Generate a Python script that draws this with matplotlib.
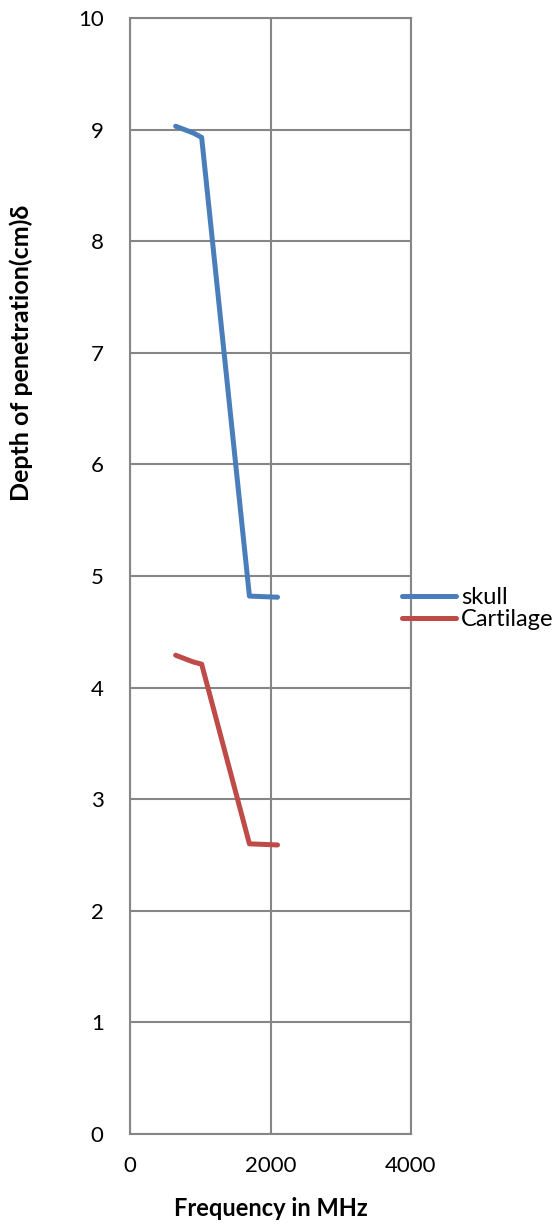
import numpy as np
import matplotlib.pyplot as plt

plt.rcParams['font.family'] = ['Lato', 'DejaVu Sans']

# frequency (MHz) and penetration depth (cm)
freq = [650, 900, 1020, 1700, 2100]
skull = [9.03, 8.97, 8.93, 4.82, 4.81]
cartilage = [4.29, 4.23, 4.21, 2.60, 2.59]

x_ticks = [0, 2000, 4000]
y_ticks = list(range(0, 11))

fig = plt.figure(figsize=(5.6, 12.24), dpi=100)
ax = fig.add_axes([130 / 560, 90 / 1224, 281 / 560, 1116 / 1224])

ax.plot(freq, skull, color='#4A7EBB', lw=3.6, label='skull',
        solid_capstyle='round', solid_joinstyle='round', zorder=3)
ax.plot(freq, cartilage, color='#BE4B48', lw=3.6, label='Cartilage',
        solid_capstyle='round', solid_joinstyle='round', zorder=3)

ax.set_xlim(0, 4000)
ax.set_ylim(0, 10)
ax.set_xticks(x_ticks)
ax.set_yticks(y_ticks)
ax.grid(True, color='#868686', lw=1.5)
ax.set_axisbelow(True)
for s in ax.spines.values():
    s.set_color('#868686')
    s.set_linewidth(1.5)
ax.tick_params(length=0, labelsize=16, colors='black')
ax.tick_params(axis='y', pad=19)
ax.tick_params(axis='x', pad=16)

ax.set_xlabel('Frequency in MHz', fontsize=17, fontweight='bold', labelpad=15)
ax.set_ylabel('Depth of penetration(cm)δ', fontsize=18, fontweight='bold')
ax.yaxis.set_label_coords(-0.345, 0.70)

leg = fig.legend(loc='upper left', bbox_to_anchor=(402 / 560, 1 - 587 / 1224),
                 frameon=False, fontsize=17, handlelength=2.3, handletextpad=0.2,
                 labelspacing=0.05, borderaxespad=0, borderpad=0)

fig.savefig('out.png', dpi=100)
